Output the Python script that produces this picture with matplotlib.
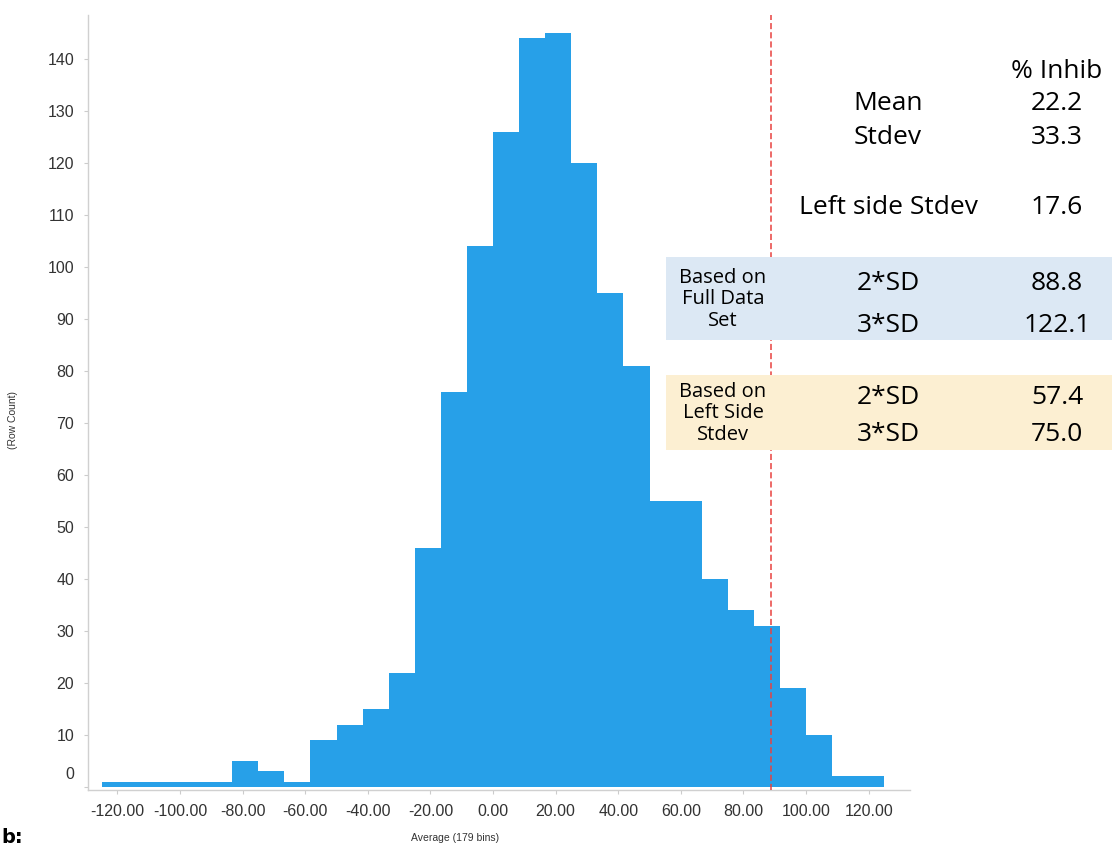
import matplotlib
matplotlib.use("Agg")
import matplotlib.pyplot as plt
import matplotlib.transforms as mtransforms
import numpy as np
from matplotlib.patches import Rectangle

# histogram: 30 bins from -125 to 125
bin_edges = np.linspace(-125, 125, 31)
counts = [1, 1, 1, 1, 1, 5, 3, 1, 9, 12, 15, 22, 46, 76, 104,
          126, 144, 145, 120, 95, 81, 55, 55, 40, 34, 31, 19, 10, 2, 2]
cutoff = 88.8

x_ticks = [-120, -100, -80, -60, -40, -20, 0, 20, 40, 60, 80, 100, 120]
y_ticks = list(range(0, 150, 10))

stat_names = ["Mean", "Stdev", "Left side Stdev"]
stat_values = ["22.2", "33.3", "17.6"]
full_label = "Based on\nFull Data\nSet"
left_label = "Based on\nLeft Side\nStdev"
sd_names = ["2*SD", "3*SD"]
full_values = ["88.8", "122.1"]
left_values = ["57.4", "75.0"]

W, H = 1112, 850
fig = plt.figure(figsize=(W / 100, H / 100), dpi=100)
ax = fig.add_axes([88 / W, 1 - 790 / H, (910 - 88) / W, (790 - 15) / H])

def px(x, y):
    return x / W, 1 - y / H

ax.hist(bin_edges[:-1], bins=bin_edges, weights=counts, color="#27A0E8",
        histtype="stepfilled", linewidth=0, zorder=2)
ax.axvline(cutoff, color="#E8413F", linestyle=(0, (4, 2)), linewidth=1.1, zorder=3)

ax.set_xlim(-129.4, 133.2)
ax.set_ylim(-0.6, 148.5)

tick_font = ["Liberation Sans Narrow", "Liberation Sans"]
ax.set_xticks(x_ticks)
ax.set_xticklabels([f"{v:.2f}" for v in x_ticks], family=tick_font, fontsize=11.5, color="#333333")
ax.set_yticks(y_ticks)
ax.set_yticklabels([str(v) for v in y_ticks], family=tick_font, fontsize=11.5, color="#333333")
ax.tick_params(axis="both", length=3, color="#cccccc", pad=7)
# the zero label sits a little above the baseline in the original
zero_lab = ax.get_yticklabels()[0]
zero_lab.set_transform(zero_lab.get_transform() +
                       mtransforms.ScaledTranslation(0, 14 / 100, fig.dpi_scale_trans))
for s in ["top", "right"]:
    ax.spines[s].set_visible(False)
for s in ["left", "bottom"]:
    ax.spines[s].set_color("#d0d0d0")
    ax.spines[s].set_linewidth(1)

fig.text(*px(455, 838), "Average (179 bins)", family=tick_font, fontsize=7.5,
         color="#333333", ha="center", va="center")
fig.text(*px(13, 420), "(Row Count)", family=tick_font, fontsize=7.5,
         color="#333333", ha="center", va="center", rotation=90)

# stats table on the right
tf = "Open Sans"
big = 19
fig.text(*px(1057, 71), "% Inhib", family=tf, fontsize=big, ha="center", va="center")
for name, val, y in zip(stat_names, stat_values, [103, 138, 207]):
    fig.text(*px(888, y), name, family=tf, fontsize=big, ha="center", va="center")
    fig.text(*px(1057, y), val, family=tf, fontsize=big, ha="center", va="center")

for color, top, bottom, label, vals, ys in [
        ("#DCE8F4", 257, 340, full_label, full_values, [283, 325]),
        ("#FCEFD2", 375, 450, left_label, left_values, [398, 435])]:
    x0, y0 = px(666, bottom)
    fig.add_artist(Rectangle((x0, y0), (W - 666) / W, (bottom - top) / H,
                             transform=fig.transFigure, facecolor=color,
                             edgecolor="none", zorder=5))
    fig.text(*px(723, (top + bottom) / 2 + 1), label, family=tf, fontsize=14.5,
             ha="center", va="center", linespacing=1.12, zorder=6)
    for name, val, y in zip(sd_names, vals, ys):
        fig.text(*px(888, y), name, family=tf, fontsize=big, ha="center", va="center", zorder=6)
        fig.text(*px(1057, y), val, family=tf, fontsize=big, ha="center", va="center", zorder=6)

fig.text(0.001, 0.003, "b:", fontsize=14, fontweight="bold", ha="left", va="bottom")

fig.savefig("out.png", dpi=100)
